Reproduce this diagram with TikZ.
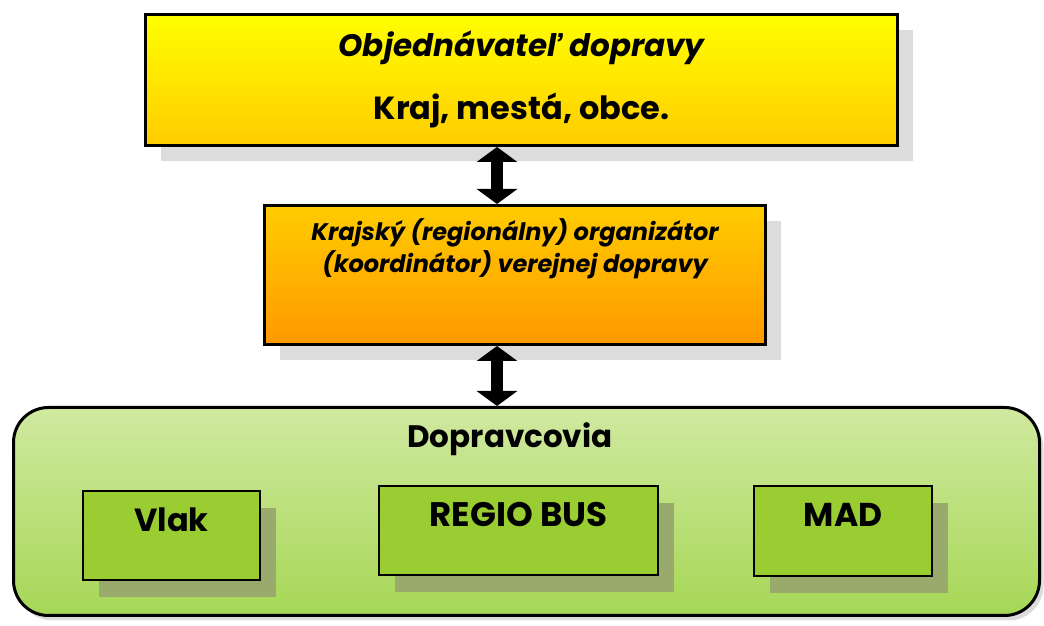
\documentclass[tikz,border=0pt]{standalone}
\usepackage{fontspec}
\setmainfont{Poppins}
\usetikzlibrary{arrows.meta,shadows}
\definecolor{shgray}{HTML}{DCDCDC}
\definecolor{shgreen}{HTML}{98AA6C}
\definecolor{ylwA}{HTML}{FFFF00}
\definecolor{ylwB}{HTML}{FFCC00}
\definecolor{orgB}{HTML}{FF9900}
\definecolor{grnA}{HTML}{D0E9A0}
\definecolor{grnB}{HTML}{A6D756}
\definecolor{grnBox}{HTML}{9ACD32}
\tikzset{
  x=1pt, y=1pt,
  mainbox/.style={draw=black, line width=3pt, inner sep=0pt,
    general shadow={fill=shgray, shadow xshift=15pt, shadow yshift=-16pt}},
  subbox/.style={draw=black, line width=1.5pt, inner sep=0pt, fill=grnBox,
    general shadow={fill=shgreen, shadow xshift=16pt, shadow yshift=-17pt}},
  lbl/.style={inner sep=0pt, anchor=base, font=\bfseries},
  dblarrow/.style={line width=12pt,
    {Triangle[width=40pt,length=15pt]}-{Triangle[width=40pt,length=15pt]}}
}
\begin{document}
\begin{tikzpicture}
\useasboundingbox (0,0) rectangle (1044,626);
% top box
\node[mainbox, top color=ylwA, bottom color=ylwB, minimum width=752pt, minimum height=131pt] (top) at (521.5,546) {};
\node[lbl, font=\bfseries\itshape\fontsize{31}{36}\selectfont] (t1) at (521.5,569) {Objednávateľ dopravy};
\node[lbl, font=\bfseries\fontsize{32}{36}\selectfont] (t2) at (521.5,506) {Kraj, mestá, obce.};
% middle box
\node[mainbox, top color=ylwB, bottom color=orgB, minimum width=501pt, minimum height=139pt] (mid) at (515,351) {};
\node[lbl, font=\bfseries\itshape\fontsize{24}{28}\selectfont] (m1) at (515,385) {Krajský (regionálny) organizátor};
\node[lbl, font=\bfseries\itshape\fontsize{24}{28}\selectfont] (m2) at (515,353) {(koordinátor) verejnej dopravy};
% bottom container
\node[draw=black, line width=3pt, rounded corners=35pt, top color=grnA, bottom color=grnB,
  minimum width=1026pt, minimum height=208pt, inner sep=0pt,
  general shadow={fill=shgray, shadow xshift=4pt, shadow yshift=-5pt}] (bot) at (526.5,114.5) {};
\node[lbl, font=\bfseries\fontsize{31}{36}\selectfont] (b0) at (510,178) {Dopravcovia};
\node[subbox, minimum width=177pt, minimum height=89pt] (vlak) at (171.5,90.5) {};
\node[subbox, minimum width=279pt, minimum height=89pt] (bus) at (518.5,95.5) {};
\node[subbox, minimum width=178pt, minimum height=90pt] (mad) at (843,95) {};
\node[lbl, font=\bfseries\fontsize{32}{36}\selectfont] (vlakt) at (171.5,94) {Vlak};
\node[lbl, font=\bfseries\fontsize{34}{38}\selectfont] (bust) at (518.5,99) {REGIO BUS};
\node[lbl, font=\bfseries\fontsize{33}{38}\selectfont] (madt) at (843,99) {MAD};
% arrows
\draw[dblarrow] (top.south -| 497,0) -- (mid.north -| 497,0);
\draw[dblarrow] (mid.south -| 497,0) -- (bot.north -| 497,0);
\end{tikzpicture}
\end{document}
